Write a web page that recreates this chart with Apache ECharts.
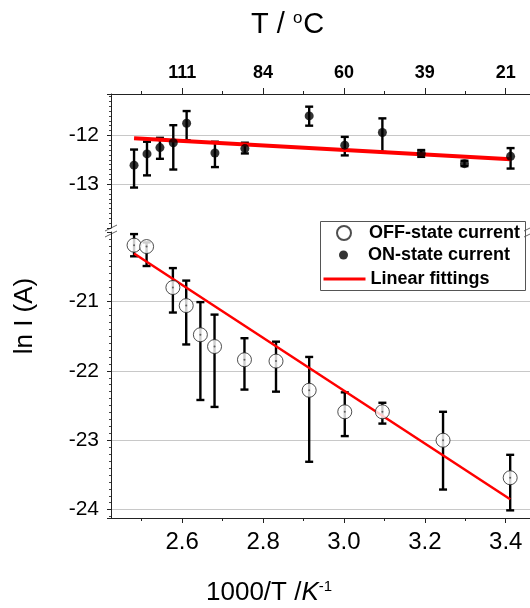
<!DOCTYPE html>
<html>
<head>
<meta charset="utf-8">
<script src="https://cdn.jsdelivr.net/npm/echarts@6/dist/echarts.min.js"></script>
<style>
  html, body { margin: 0; padding: 0; background: #fff; }
  #chart { width: 530px; height: 608px; }
</style>
</head>
<body>
<div id="chart"></div>
<script>
// OFF-state current: 1000/T (K^-1), ln I and its error range
const offX    = [2.481, 2.512, 2.577, 2.610, 2.645, 2.680, 2.754, 2.832, 2.914, 3.002, 3.095, 3.245, 3.411];
const offY    = [-20.19, -20.21, -20.80, -21.06, -21.48, -21.65, -21.84, -21.86, -22.28, -22.59, -22.59, -23.00, -23.54];
const offLow  = [-20.35, -20.49, -21.16, -21.62, -22.42, -22.52, -22.27, -22.30, -23.31, -22.94, -22.76, -23.71, -24.01];
const offHigh = [-20.03, -20.15, -20.52, -20.70, -21.01, -21.19, -21.53, -21.58, -21.80, -22.31, -22.46, -22.59, -23.21];

// ON-state current
const onX    = [2.481, 2.513, 2.545, 2.578, 2.611, 2.681, 2.755, 2.914, 3.002, 3.095, 3.191, 3.298, 3.412];
const onY    = [-12.61, -12.38, -12.25, -12.15, -11.75, -12.36, -12.27, -11.60, -12.20, -11.94, -12.37, -12.58, -12.43];
const onLow  = [-13.07, -12.82, -12.48, -12.70, -12.10, -12.65, -12.37, -11.80, -12.41, -12.34, -12.44, -12.63, -12.68];
const onHigh = [-12.29, -12.13, -12.05, -11.79, -11.50, -12.13, -12.15, -11.41, -12.03, -11.65, -12.30, -12.52, -12.26];

// Linear fittings (end points)
const fitOffX = [2.481, 3.411];
const fitOffY = [-20.31, -23.85];
const fitOnX  = [2.481, 3.412];
const fitOnY  = [-12.06, -12.49];

// Axis ticks
const xTicks      = [2.6, 2.8, 3.0, 3.2, 3.4];
const xMinorTicks = [2.5, 2.7, 2.9, 3.1, 3.3];
const tempLabels  = ['111', '84', '60', '39', '21'];   // T / °C at the xTicks positions

const FONT = '"Liberation Sans", Arial, Helvetica, sans-serif';
const X_MIN = 2.424, X_MAX = 3.46;

const chart = echarts.init(document.getElementById('chart'), null, { renderer: 'canvas' });

function errorBars(xs, lo, hi, xi, yi) {
  return {
    type: 'custom',
    xAxisIndex: xi, yAxisIndex: yi,
    silent: true, z: 2,
    data: xs.map((x, i) => [x, lo[i], hi[i]]),
    encode: { x: 0, y: [1, 2] },
    renderItem: (params, api) => {
      const x = api.value(0);
      const p1 = api.coord([x, api.value(1)]);
      const p2 = api.coord([x, api.value(2)]);
      const w = 4;
      const style = { stroke: '#000', lineWidth: 2.4, fill: null };
      return {
        type: 'group',
        children: [
          { type: 'line', shape: { x1: p1[0], y1: p1[1], x2: p2[0], y2: p2[1] }, style },
          { type: 'line', shape: { x1: p1[0] - w, y1: p1[1], x2: p1[0] + w, y2: p1[1] }, style },
          { type: 'line', shape: { x1: p2[0] - w, y1: p2[1], x2: p2[0] + w, y2: p2[1] }, style }
        ]
      };
    }
  };
}

const axisLine = { show: true, onZero: false, lineStyle: { color: '#222', width: 1 } };
const legendText = { fontSize: 18, fontWeight: 'bold', color: '#000', fontFamily: FONT };

const option = {
  animation: false,
  backgroundColor: '#fff',
  textStyle: { fontFamily: FONT },
  grid: [
    { left: 111, right: 0, top: 94, height: 134 },
    { left: 111, right: 0, top: 232, height: 286 }
  ],
  xAxis: [
    { // top temperature axis (grid 0)
      type: 'value', gridIndex: 0, position: 'top', min: X_MIN, max: X_MAX,
      axisLine,
      axisTick: { show: true, length: 6, customValues: xTicks, lineStyle: { color: '#222' } },
      axisLabel: {
        show: true, customValues: xTicks, margin: 12,
        fontSize: 18, fontWeight: 'bold', color: '#000', fontFamily: FONT,
        formatter: v => tempLabels[xTicks.findIndex(t => Math.abs(t - v) < 1e-6)]
      },
      splitLine: { show: false }
    },
    { // top minor ticks
      type: 'value', gridIndex: 0, position: 'top', min: X_MIN, max: X_MAX,
      axisLine: { show: false },
      axisTick: { show: true, length: 3, customValues: xMinorTicks, lineStyle: { color: '#222' } },
      axisLabel: { show: false },
      splitLine: { show: false }
    },
    { // bottom 1000/T axis (grid 1)
      type: 'value', gridIndex: 1, position: 'bottom', min: X_MIN, max: X_MAX,
      axisLine,
      axisTick: { show: true, length: 5, customValues: xTicks, lineStyle: { color: '#222' } },
      axisLabel: {
        show: true, customValues: xTicks, margin: 12,
        fontSize: 24, color: '#000', fontFamily: FONT,
        formatter: v => v.toFixed(1)
      },
      splitLine: { show: false }
    },
    { // bottom minor ticks
      type: 'value', gridIndex: 1, position: 'bottom', min: X_MIN, max: X_MAX,
      axisLine: { show: false },
      axisTick: { show: true, length: 3, customValues: xMinorTicks, lineStyle: { color: '#222' } },
      axisLabel: { show: false },
      splitLine: { show: false }
    }
  ],
  yAxis: [
    {
      type: 'value', gridIndex: 0, min: -13.9, max: -11.15, splitNumber: 3,
      axisLine,
      axisTick: { show: true, length: 4, lineStyle: { color: '#222' } },
      minorTick: { show: true, splitNumber: 10, length: 2, lineStyle: { color: '#444' } },
      axisLabel: { show: true, showMinLabel: false, showMaxLabel: false, margin: 12,
                   fontSize: 21, color: '#000', fontFamily: FONT },
      splitLine: { show: true, showMinLine: false, showMaxLine: false, lineStyle: { color: '#c8c8c8', width: 1 } }
    },
    {
      type: 'value', gridIndex: 1, min: -24.12, max: -20, splitNumber: 4,
      axisLine,
      axisTick: { show: true, length: 4, lineStyle: { color: '#222' } },
      minorTick: { show: true, splitNumber: 10, length: 2, lineStyle: { color: '#444' } },
      axisLabel: { show: true, showMinLabel: false, showMaxLabel: false, margin: 12,
                   fontSize: 21, color: '#000', fontFamily: FONT },
      splitLine: { show: true, showMinLine: false, showMaxLine: false, lineStyle: { color: '#c8c8c8', width: 1 } }
    }
  ],
  legend: [
    { data: ['OFF-state current'], left: 336, top: 224, padding: 0, itemWidth: 14, itemHeight: 14,
      textStyle: Object.assign({ padding: [0, 0, 0, 13] }, legendText) },
    { data: ['ON-state current'], left: 339, top: 246, padding: 0, itemWidth: 9, itemHeight: 9,
      textStyle: Object.assign({ padding: [0, 0, 0, 15] }, legendText) },
    { data: ['Linear fittings'], left: 322, top: 270, padding: 0, itemWidth: 42, itemHeight: 14,
      lineStyle: { width: 3 },
      itemStyle: { color: 'rgba(0,0,0,0)', borderColor: 'rgba(0,0,0,0)', borderWidth: 0 },
      textStyle: legendText }
  ],
  series: [
    errorBars(onX, onLow, onHigh, 0, 0),
    errorBars(offX, offLow, offHigh, 2, 1),
    {
      name: 'Linear fittings', type: 'line', xAxisIndex: 0, yAxisIndex: 0,
      data: fitOnX.map((x, i) => [x, fitOnY[i]]),
      symbol: 'none', lineStyle: { color: '#ff0000', width: 4 }, itemStyle: { color: '#ff0000' }, z: 3
    },
    {
      name: 'Linear fittings', type: 'line', xAxisIndex: 2, yAxisIndex: 1,
      data: fitOffX.map((x, i) => [x, fitOffY[i]]),
      symbol: 'none', lineStyle: { color: '#ff0000', width: 2.5 }, itemStyle: { color: '#ff0000' }, z: 3
    },
    {
      name: 'ON-state current', type: 'scatter', xAxisIndex: 0, yAxisIndex: 0,
      data: onX.map((x, i) => [x, onY[i]]),
      symbol: 'circle', symbolSize: 9, itemStyle: { color: '#000' }, z: 4
    },
    {
      name: 'OFF-state current', type: 'scatter', xAxisIndex: 2, yAxisIndex: 1,
      data: offX.map((x, i) => [x, offY[i]]),
      symbol: 'circle', symbolSize: 14,
      itemStyle: { color: '#fff', borderColor: '#222', borderWidth: 1 }, z: 4
    },
    { // centre dots of the open circles
      type: 'scatter', xAxisIndex: 2, yAxisIndex: 1, silent: true,
      data: offX.map((x, i) => [x, offY[i]]),
      symbol: 'circle', symbolSize: 2, itemStyle: { color: '#444' }, z: 5
    }
  ],
  graphic: [
    // legend frame
    { type: 'rect', shape: { x: 320.5, y: 221.5, width: 205, height: 69 },
      style: { fill: null, stroke: '#555', lineWidth: 1 }, z: 10, silent: true },
    // axis break marks
    { type: 'line', shape: { x1: 105, y1: 231, x2: 117, y2: 225 }, style: { stroke: '#666', lineWidth: 1 }, silent: true },
    { type: 'line', shape: { x1: 105, y1: 237, x2: 117, y2: 231 }, style: { stroke: '#666', lineWidth: 1 }, silent: true },
    { type: 'line', shape: { x1: 524, y1: 231, x2: 536, y2: 225 }, style: { stroke: '#666', lineWidth: 1 }, silent: true },
    { type: 'line', shape: { x1: 524, y1: 237, x2: 536, y2: 231 }, style: { stroke: '#666', lineWidth: 1 }, silent: true },
    // axis titles
    { type: 'text', left: 251, top: 10, silent: true,
      style: {
        text: '{m|T / }{s|o}{m|C}',
        rich: {
          m: { fontSize: 29, fontFamily: FONT, fill: '#000' },
          s: { fontSize: 17, fontFamily: FONT, fill: '#000', verticalAlign: 'top', padding: [0, 1, 12, 0] }
        }
      } },
    { type: 'text', left: 206, top: 579, silent: true,
      style: {
        text: '{m|1000/T /}{i|K}{s|-1}',
        rich: {
          m: { fontSize: 26, fontFamily: FONT, fill: '#000' },
          i: { fontSize: 26, fontFamily: FONT, fontStyle: 'italic', fill: '#000' },
          s: { fontSize: 15, fontFamily: FONT, fill: '#000', verticalAlign: 'top', padding: [0, 0, 12, 0] }
        }
      } },
    { type: 'text', x: 25, y: 316, rotation: Math.PI / 2, silent: true,
      style: { text: 'ln I (A)', fontSize: 26, fontFamily: FONT, fill: '#000', align: 'center', verticalAlign: 'middle' } }
  ]
};

chart.setOption(option);
</script>
</body>
</html>
